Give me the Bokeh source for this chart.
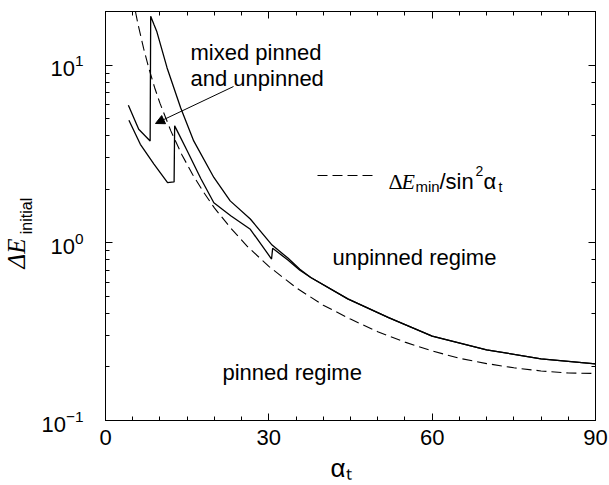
import math
from bokeh.plotting import figure
from bokeh.models import (Range1d, LinearAxis, LogAxis, SingleIntervalTicker, LogTicker,
                          Label, Arrow, NormalHead, CustomJSTickFormatter, Title)
from bokeh.embed import file_html
from bokeh.resources import INLINE

# ---------------- data ----------------
x_major_ticks = [0, 30, 60, 90]

dashed_alpha = [5.5, 5.6, 6, 7, 8, 9, 10, 12, 14, 16, 18, 20, 23, 26, 30, 35, 40, 45, 50,
                55, 60, 65, 70, 75, 80, 85, 90]
dashed_val = [20.0, 19.3, 16.8, 12.4, 9.5, 7.5, 6.1, 4.26, 3.14, 2.42, 1.93, 1.57, 1.21, 0.957,
              0.736, 0.559, 0.445, 0.372, 0.316, 0.276, 0.246, 0.224, 0.209, 0.198, 0.190, 0.185, 0.184]

upper_alpha = [4.2, 6.1, 8.2, 8.3, 8.9, 9.4, 11.3, 13.8, 16.2, 19.9, 22.9, 26.6, 30.6, 33.5,
               35.7, 37.7, 44.5, 52, 60, 70, 80, 90]
upper_val = [5.94, 4.35, 3.74, 18.8, 16.9, 15.5, 9.66, 5.75, 3.74, 2.33, 1.72, 1.36, 0.97, 0.82,
             0.71, 0.638, 0.483, 0.379, 0.298, 0.25, 0.222, 0.208]

lower_alpha = [4.3, 6.4, 8.9, 11.4, 12.6, 12.7, 13.1, 15.0, 17.5, 19.9, 23.0, 26.6, 30.5, 30.7,
               33.5, 35.7, 37.7, 44.5, 52, 60, 70, 80, 90]
lower_val = [4.89, 3.58, 2.77, 2.18, 2.2, 4.55, 4.3, 3.29, 2.3, 1.68, 1.42, 1.19, 0.81, 0.93,
             0.80, 0.70, 0.638, 0.483, 0.379, 0.298, 0.25, 0.222, 0.208]

# ---------------- layout ----------------
W, H = 609, 485
BL, BR, BT, BB = 105, 14, 11, 65
X0, X1 = 0, 90
Y0, Y1 = 0.1, 20

p = figure(width=W, height=H, y_axis_type="log",
           x_range=Range1d(X0, X1), y_range=Range1d(Y0, Y1),
           output_backend="svg", toolbar_location=None,
           min_border_left=BL, min_border_right=BR, min_border_top=BT, min_border_bottom=BB)
p.xgrid.visible = False
p.ygrid.visible = False
p.outline_line_color = "black"
p.background_fill_color = "white"
p.border_fill_color = "white"

# picture pixel -> data helpers
FL, FR, FT, FB = BL, W - BR, BT, H - BB


def X(px):
    return X0 + (px - FL) / (FR - FL) * (X1 - X0)


def Y(py):
    lo, hi = math.log10(Y0), math.log10(Y1)
    return 10 ** (lo + (FB - py) / (FB - FT) * (hi - lo))


FONT = "Liberation Sans"
SERIF = "Liberation Serif"


def style_axis(ax, labels=True):
    ax.axis_line_color = "black"
    ax.major_tick_line_color = "black"
    ax.minor_tick_line_color = "black"
    ax.major_tick_in = 7
    ax.major_tick_out = 0
    ax.minor_tick_in = 4
    ax.minor_tick_out = 0
    ax.major_label_text_font = FONT
    ax.major_label_text_font_size = "22px"
    ax.major_label_text_color = "black"
    if not labels:
        ax.formatter = CustomJSTickFormatter(code="return ''")
        ax.major_label_standoff = 0
        ax.major_label_text_font_size = "1px"


xax = p.xaxis[0]
yax = p.yaxis[0]
xax.ticker = SingleIntervalTicker(interval=30, num_minor_ticks=6)
style_axis(xax)
xax.major_label_standoff = 9
style_axis(yax)
yax.major_label_standoff = 22

# y label: subscript part as the axis label, "ΔE" as a title just outside it
yax.axis_label = "initial"
yax.axis_label_text_font = FONT
yax.axis_label_text_font_size = "16px"
yax.axis_label_text_font_style = "normal"
yax.axis_label_text_color = "black"
yax.axis_label_standoff = 3

top = LinearAxis(ticker=SingleIntervalTicker(interval=30, num_minor_ticks=6))
style_axis(top, labels=False)
p.add_layout(top, "above")
right = LogAxis(ticker=LogTicker())
style_axis(right, labels=False)
p.add_layout(right, "right")

p.add_layout(Title(text="\u0394E", align="left", offset=152, vertical_align="bottom",
                   standoff=-28, text_font=SERIF, text_font_size="25px",
                   text_font_style="italic", text_color="black"), "left")

# x label
p.add_layout(Title(text="\u03b1\u209c", align="left", offset=225, vertical_align="bottom",
                   standoff=6, text_font=FONT, text_font_size="26px",
                   text_font_style="normal", text_color="black"), "below")

# ---------------- curves ----------------
p.line(dashed_alpha, dashed_val, line_color="black", line_width=1.1, line_dash="10 5")
p.line(upper_alpha, upper_val, line_color="black", line_width=1.3)
p.line(lower_alpha, lower_val, line_color="black", line_width=1.3)


# ---------------- annotations inside the frame ----------------
def lab(px, py, text, size="22px", font=FONT, style="normal"):
    p.add_layout(Label(x=X(px), y=Y(py), text=text, text_font=font, text_font_size=size,
                       text_font_style=style, text_color="black", text_align="left",
                       text_baseline="alphabetic"))


lab(190, 52, "mixed pinned")
lab(190, 78, "and unpinned")
lab(332, 257, "unpinned regime")
lab(222, 372, "pinned regime")

p.add_layout(Arrow(end=NormalHead(size=9, fill_color="black", line_color="black", line_width=1),
                   x_start=X(233), y_start=Y(86), x_end=X(155), y_end=Y(123),
                   line_color="black", line_width=1))

# legend: dashed sample + composed formula text
p.add_layout(Arrow(end=None, x_start=X(317), y_start=Y(175), x_end=X(373), y_end=Y(175),
                   line_color="black", line_width=1.1, line_dash="10 5"))
lab(388, 181, "\u0394", font=SERIF)
lab(401, 181, "E", font=SERIF, style="italic")
lab(415, 186, "min", size="15px")
lab(439, 181, "/sin")
lab(475, 170, "2", size="14px")
lab(483, 181, "\u03b1")
lab(498, 186, "t", size="14px")

open("out.html", "w").write(file_html(p, INLINE))
